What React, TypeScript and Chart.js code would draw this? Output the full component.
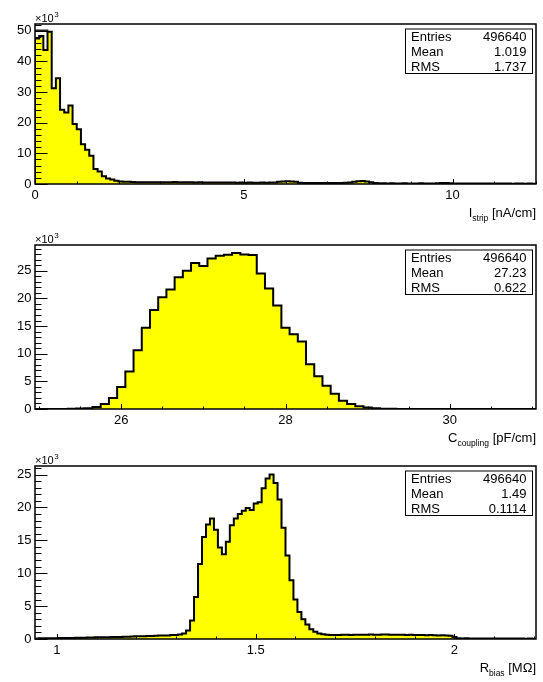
import React, { useEffect, useRef } from "react";
import { Chart, registerables } from "chart.js";

Chart.register(...registerables);

const FONT = '"Liberation Sans", Arial, Helvetica, sans-serif';

// ---------- Panel 1: I_strip ----------
const istripStart = 0;
const istripBinWidth = 0.1;
const istripCounts = [
  47.5, 48.3, 43.7, 49.7, 31.2, 34.5, 24.2, 23.3, 25.6, 19.6,
  17.9, 13.0, 11.2, 9.2, 4.9, 4.1, 2.5, 1.8, 1.5, 1.1,
  0.85, 0.75, 0.7, 0.65, 0.6, 0.6, 0.55, 0.6, 0.55, 0.6,
  0.6, 0.55, 0.6, 0.65, 0.6, 0.55, 0.6, 0.55, 0.5, 0.55,
  0.5, 0.5, 0.45, 0.5, 0.45, 0.5, 0.45, 0.45, 0.4, 0.45,
  0.4, 0.45, 0.4, 0.4, 0.45, 0.4, 0.45, 0.5, 0.7, 0.85,
  0.9, 0.85, 0.7, 0.4, 0.35, 0.35, 0.3, 0.35, 0.3, 0.35,
  0.3, 0.3, 0.35, 0.35, 0.4, 0.5, 0.75, 0.9, 0.95, 0.85,
  0.6, 0.3, 0.25, 0.25, 0.2, 0.25, 0.2, 0.2, 0.25, 0.2,
  0.2, 0.2, 0.25, 0.2, 0.2, 0.2, 0.25, 0.3, 0.3, 0.25,
  0.2, 0.2, 0.2, 0.15, 0.2, 0.2, 0.15, 0.2, 0.15, 0.15,
  0.2, 0.15, 0.15, 0.15, 0.1, 0.15, 0.15, 0.1, 0.15, 0.1,
];
const istripOverlay = [50.2, 50.2, 50.2];
const istripXRange = [0, 12];
const istripYMax = 52.2;
const istripXMajor = [0, 5, 10];
const istripXMinorStep = 1;
const istripYMajor = [0, 10, 20, 30, 40, 50];
const istripYMinorStep = 2;
const istripStats = ["496640", "1.019", "1.737"];

// ---------- Panel 2: C_coupling ----------
const ccouplingStart = 24.95;
const ccouplingBinWidth = 0.1;
const ccouplingCounts = [
  0, 0, 0.01, 0.02, 0.05, 0.1, 0.15, 0.36, 0.9, 2.0,
  4.0, 6.8, 10.6, 14.7, 17.9, 20.2, 21.6, 23.8, 25.0, 26.4,
  25.85, 27.2, 27.7, 27.9, 28.2, 27.95, 27.85, 24.5, 21.8, 18.7,
  14.7, 13.5, 12.2, 8.1, 5.9, 4.2, 2.75, 1.5, 0.9, 0.5,
  0.25, 0.12, 0.06, 0.03, 0.02, 0.01, 0.01, 0.01, 0, 0,
  0, 0, 0, 0, 0, 0, 0, 0, 0, 0, 0,
];
const ccouplingXRange = [24.95, 31.05];
const ccouplingYMax = 29.65;
const ccouplingXMajor = [26, 28, 30];
const ccouplingXMinorStep = 0.5;
const ccouplingYMajor = [0, 5, 10, 15, 20, 25];
const ccouplingYMinorStep = 1;
const ccouplingStats = ["496640", "27.23", "0.622"];

// ---------- Panel 3: R_bias ----------
const rbiasStart = 0.945;
const rbiasBinWidth = 0.01;
const rbiasCounts = [
  0.08, 0.1, 0.1, 0.1, 0.12, 0.12, 0.14, 0.15, 0.15, 0.17,
  0.18, 0.2, 0.2, 0.22, 0.24, 0.25, 0.26, 0.28, 0.28, 0.3,
  0.3, 0.32, 0.34, 0.35, 0.38, 0.4, 0.42, 0.42, 0.45, 0.45,
  0.5, 0.52, 0.55, 0.55, 0.6, 0.62, 0.68, 0.85, 1.3, 2.8,
  6.4, 11.4, 15.5, 17.4, 18.3, 16.6, 13.9, 12.9, 14.8, 17.3,
  18.3, 19.0, 19.5, 19.9, 19.6, 20.6, 20.8, 22.9, 24.4, 25.0,
  23.7, 21.2, 16.9, 12.7, 8.95, 6.0, 4.1, 3.0, 2.2, 1.5,
  1.1, 0.85, 0.72, 0.65, 0.62, 0.6, 0.62, 0.65, 0.63, 0.62,
  0.65, 0.66, 0.64, 0.66, 0.68, 0.65, 0.66, 0.7, 0.68, 0.66,
  0.65, 0.66, 0.64, 0.62, 0.63, 0.6, 0.62, 0.6, 0.58, 0.6,
  0.58, 0.55, 0.57, 0.55, 0.5, 0.3, 0.1, 0.09, 0.1, 0.09,
  0.08, 0.09, 0.08, 0.08, 0.07, 0.08, 0.07, 0.08, 0.07, 0.06,
  0.07, 0.06, 0.06, 0.05, 0.06, 0.05,
];
const rbiasXRange = [0.945, 2.205];
const rbiasYMax = 26.3;
const rbiasXMajor = [1, 1.5, 2];
const rbiasXMinorStep = 0.1;
const rbiasYMajor = [0, 5, 10, 15, 20, 25];
const rbiasYMinorStep = 1;
const rbiasStats = ["496640", "1.49", "0.1114"];

const statNames = ["Entries", "Mean", "RMS"];

type TitlePart = { t: string; sub?: boolean };

function histPoints(start: number, width: number, counts: number[]) {
  const pts: { x: number; y: number }[] = [{ x: start, y: 0 }];
  counts.forEach((c, i) => pts.push({ x: start + i * width, y: c }));
  const end = start + counts.length * width;
  pts.push({ x: end, y: counts[counts.length - 1] });
  pts.push({ x: end, y: 0 });
  return pts;
}

function overlayPoints(start: number, width: number, vals: number[], next: number) {
  const pts = vals.map((v, i) => ({ x: start + i * width, y: v }));
  const end = start + vals.length * width;
  pts.push({ x: end, y: vals[vals.length - 1] });
  pts.push({ x: end, y: next });
  return pts;
}

function steps(min: number, max: number, step: number) {
  const out: number[] = [];
  const n = Math.round((max - min) / step);
  for (let i = 0; i <= n + 1; i++) {
    const v = +(Math.ceil(min / step) * step + i * step).toFixed(6);
    if (v >= min - 1e-9 && v <= max + 1e-9) out.push(v);
  }
  return out;
}

interface PanelCfg {
  start: number;
  binWidth: number;
  counts: number[];
  overlay?: number[];
  xRange: number[];
  yMax: number;
  xMajor: number[];
  xMinorStep: number;
  yMajor: number[];
  yMinorStep: number;
  stats: string[];
  title: TitlePart[];
  top: number;
  height: number;
  padTop: number;
  padBottom: number;
}

function makePlugin(cfg: PanelCfg) {
  return {
    id: "rootFrame",
    afterDatasetsDraw(chart: any) {
      const { ctx, chartArea: a, scales } = chart;
      const xs = scales.x;
      const ys = scales.y;
      ctx.save();
      ctx.strokeStyle = "#000";
      ctx.fillStyle = "#000";
      ctx.lineWidth = 1;
      // ticks
      ctx.beginPath();
      const xMinor = steps(cfg.xRange[0], cfg.xRange[1], cfg.xMinorStep);
      xMinor.forEach((v) => {
        const px = Math.round(xs.getPixelForValue(v)) + 0.5;
        const major = cfg.xMajor.some((m) => Math.abs(m - v) < 1e-6);
        ctx.moveTo(px, a.bottom);
        ctx.lineTo(px, a.bottom - (major ? 5 : 2.5));
      });
      const yMinor = steps(0, cfg.yMax, cfg.yMinorStep);
      yMinor.forEach((v) => {
        const py = Math.round(ys.getPixelForValue(v)) + 0.5;
        const major = cfg.yMajor.some((m) => Math.abs(m - v) < 1e-6);
        ctx.moveTo(a.left, py);
        ctx.lineTo(a.left + (major ? 12.5 : 6.5), py);
      });
      ctx.stroke();
      // frame
      ctx.lineWidth = 1.5;
      ctx.strokeRect(a.left, a.top, a.right - a.left, a.bottom - a.top);

      // tick labels
      ctx.font = `13px ${FONT}`;
      ctx.textBaseline = "middle";
      ctx.textAlign = "center";
      cfg.xMajor.forEach((v) => {
        ctx.fillText(String(v), xs.getPixelForValue(v), a.bottom + 11);
      });
      ctx.textAlign = "right";
      cfg.yMajor.forEach((v) => {
        ctx.fillText(String(v), a.left - 3.5, ys.getPixelForValue(v));
      });

      // x10^3
      ctx.textAlign = "left";
      ctx.textBaseline = "alphabetic";
      ctx.font = `11px ${FONT}`;
      const base = "\u00d710";
      ctx.fillText(base, a.left, a.top - 2.5);
      const bw = ctx.measureText(base).width;
      ctx.font = `8px ${FONT}`;
      ctx.fillText("3", a.left + bw + 0.5, a.top - 7);

      // axis title
      let total = 0;
      cfg.title.forEach((p) => {
        ctx.font = p.sub ? `8.5px ${FONT}` : `13px ${FONT}`;
        total += ctx.measureText(p.t).width;
      });
      let tx = a.right - total;
      const ty = a.bottom + 33;
      cfg.title.forEach((p) => {
        ctx.font = p.sub ? `8.5px ${FONT}` : `13px ${FONT}`;
        ctx.fillText(p.t, tx, p.sub ? ty + 4 : ty);
        tx += ctx.measureText(p.t).width;
      });

      // stats box
      const bx = 405, bx2 = 532;
      const by = a.top + 4.5, by2 = a.top + 49;
      ctx.fillStyle = "#fff";
      ctx.fillRect(bx, by, bx2 - bx, by2 - by);
      ctx.lineWidth = 1;
      ctx.strokeRect(bx + 0.5, by + 0.5, bx2 - bx, by2 - by);
      ctx.fillStyle = "#000";
      ctx.font = `13px ${FONT}`;
      ctx.textBaseline = "middle";
      const rows = [13.5, 28.5, 43];
      statNames.forEach((n, i) => {
        ctx.textAlign = "left";
        ctx.fillText(n, 411, a.top + rows[i]);
        ctx.textAlign = "right";
        ctx.fillText(cfg.stats[i], 526.5, a.top + rows[i]);
      });
      ctx.restore();
    },
  };
}

function HistPanel({ cfg }: { cfg: PanelCfg }) {
  const ref = useRef<HTMLCanvasElement | null>(null);
  useEffect(() => {
    if (!ref.current) return;
    const datasets: any[] = [
      {
        data: histPoints(cfg.start, cfg.binWidth, cfg.counts),
        stepped: true,
        fill: "origin",
        backgroundColor: "#ffff00",
        borderColor: "#000",
        borderWidth: 2,
        pointRadius: 0,
      },
    ];
    if (cfg.overlay) {
      datasets.push({
        data: overlayPoints(cfg.start, cfg.binWidth, cfg.overlay, cfg.counts[cfg.overlay.length]),
        stepped: true,
        fill: false,
        borderColor: "#222",
        borderWidth: 1.5,
        pointRadius: 0,
      });
    }
    const chart = new Chart(ref.current, {
      type: "line",
      data: { datasets },
      options: {
        responsive: false,
        animation: false,
        devicePixelRatio: 1,
        layout: {
          autoPadding: false,
          padding: { left: 35, right: 7, top: cfg.padTop, bottom: cfg.padBottom },
        },
        plugins: { legend: { display: false }, tooltip: { enabled: false } },
        scales: {
          x: { type: "linear", display: false, min: cfg.xRange[0], max: cfg.xRange[1] },
          y: { type: "linear", display: false, min: 0, max: cfg.yMax },
        },
      },
      plugins: [makePlugin(cfg)],
    } as any);
    return () => chart.destroy();
  }, []);
  return (
    <canvas
      ref={ref}
      width={543}
      height={cfg.height}
      style={{ position: "absolute", left: 0, top: cfg.top, width: 543, height: cfg.height }}
    />
  );
}

const panels: PanelCfg[] = [
  {
    start: istripStart, binWidth: istripBinWidth, counts: istripCounts, overlay: istripOverlay,
    xRange: istripXRange, yMax: istripYMax, xMajor: istripXMajor, xMinorStep: istripXMinorStep,
    yMajor: istripYMajor, yMinorStep: istripYMinorStep, stats: istripStats,
    title: [{ t: "I" }, { t: "strip", sub: true }, { t: " [nA/cm]" }],
    top: 0, height: 227, padTop: 24, padBottom: 43,
  },
  {
    start: ccouplingStart, binWidth: ccouplingBinWidth, counts: ccouplingCounts,
    xRange: ccouplingXRange, yMax: ccouplingYMax, xMajor: ccouplingXMajor, xMinorStep: ccouplingXMinorStep,
    yMajor: ccouplingYMajor, yMinorStep: ccouplingYMinorStep, stats: ccouplingStats,
    title: [{ t: "C" }, { t: "coupling", sub: true }, { t: " [pF/cm]" }],
    top: 227, height: 223, padTop: 18, padBottom: 41,
  },
  {
    start: rbiasStart, binWidth: rbiasBinWidth, counts: rbiasCounts,
    xRange: rbiasXRange, yMax: rbiasYMax, xMajor: rbiasXMajor, xMinorStep: rbiasXMinorStep,
    yMajor: rbiasYMajor, yMinorStep: rbiasYMinorStep, stats: rbiasStats,
    title: [{ t: "R" }, { t: "bias", sub: true }, { t: " [M\u03a9]" }],
    top: 450, height: 232, padTop: 16, padBottom: 43,
  },
];

export default function App() {
  return (
    <div
      style={{
        position: "absolute",
        left: 0,
        top: 0,
        width: 543,
        height: 682,
        background: "#fff",
        overflow: "hidden",
      }}
    >
      {panels.map((p, i) => (
        <HistPanel key={i} cfg={p} />
      ))}
    </div>
  );
}
